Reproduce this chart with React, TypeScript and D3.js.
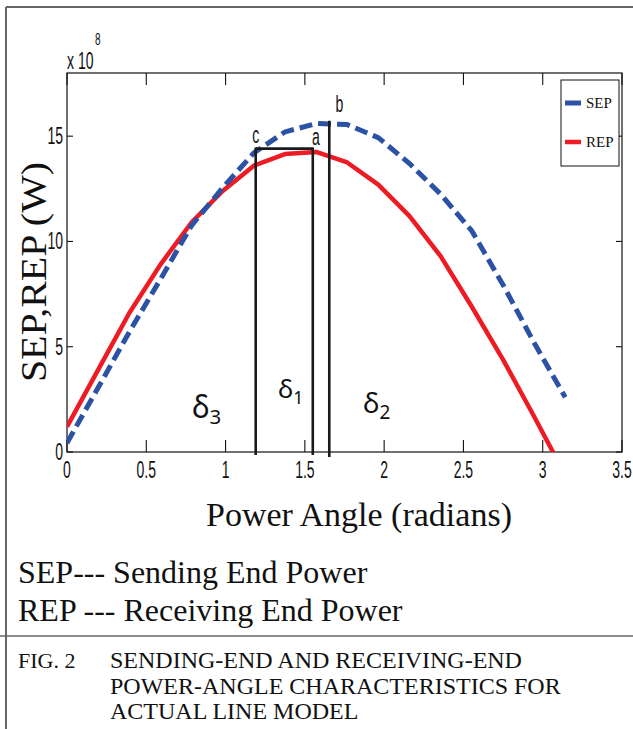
import React from "react";
import * as d3 from "d3";

// ---- data ----
const angles = [0, 0.196, 0.393, 0.589, 0.785, 0.982, 1.178, 1.374, 1.571, 1.767, 1.963, 2.16, 2.356, 2.553, 2.749, 2.945, 3.142];
const sepValues = [0.43, 3.05, 5.7, 8.2, 10.75, 12.55, 14.2, 15.2, 15.6, 15.55, 14.93, 13.7, 12.25, 10.5, 7.95, 5.2, 2.6];
const repValues = [1.2, 3.9, 6.6, 8.9, 10.9, 12.4, 13.6, 14.15, 14.25, 13.75, 12.7, 11.2, 9.3, 6.9, 4.4, 1.7, -1.1];
const xTicks = [0, 0.5, 1, 1.5, 2, 2.5, 3, 3.5];
const xTickLabels = ["0", "0.5", "1", "1.5", "2", "2.5", "3", "3.5"];
const yTicks = [0, 5, 10, 15];
const yTickLabels = ["0", "5", "10", "15"];
const markerNames = ["c", "a", "b"];
const markerAngles = [1.19, 1.55, 1.654];
const markerTops = [14.41, 14.41, 15.69];
const seriesNames = ["SEP", "REP"];
const deltaNames = ["3", "1", "2"];
const deltaAngles = [0.788, 1.331, 1.867];
const deltaLevels = [1.6, 2.55, 1.85];
const noteLines = ["SEP--- Sending End Power", "REP --- Receiving End Power"];
const captionLines = ["SENDING-END AND RECEIVING-END", "POWER-ANGLE CHARACTERISTICS FOR", "ACTUAL LINE MODEL"];

const W = 633, H = 729;
const left = 67, right = 622, top = 73, bottom = 452;
const BLUE = "#2C52A6", RED = "#ED1C24";
const SY = 1.65;
const SANS = "'Liberation Sans', Arial, sans-serif";
const SERIF = "'Liberation Serif', 'Times New Roman', serif";

function Stretch({ x, y, anchor = "start", size = 14, children }: any) {
  return (
    <g transform={`translate(${x},${y}) scale(1,${SY})`}>
      <text x={0} y={0} textAnchor={anchor} fontFamily={SANS} fontSize={size} fill="#111">{children}</text>
    </g>
  );
}

export default function App() {
  const x = d3.scaleLinear().domain([0, 3.5]).range([left, right]);
  const y = d3.scaleLinear().domain([0, 18]).range([bottom, top]);
  const line = d3.line<number>().x((_, i) => x(angles[i])).y((d) => y(d));
  const sepPath = line(sepValues) || "";
  const repPath = line(repValues) || "";
  const deltaSizes = [30, 26, 28];

  return (
    <svg width={W} height={H} style={{ position: "absolute", left: 0, top: 0, background: "#fff" }}>
      <defs>
        <clipPath id="plotclip">
          <rect x={left} y={top} width={right - left} height={bottom - top} />
        </clipPath>
      </defs>
      <rect x={0} y={0} width={W} height={H} fill="#fff" />
      {/* frame */}
      <line x1={6} y1={7} x2={W} y2={7} stroke="#666" strokeWidth={2} />
      <line x1={6} y1={7} x2={6} y2={H} stroke="#666" strokeWidth={2} />
      <line x1={0} y1={636} x2={W} y2={636} stroke="#666" strokeWidth={1.5} />

      {/* axes box */}
      <rect x={left} y={top} width={right - left} height={bottom - top} fill="none" stroke="#111" strokeWidth={1.2} />
      {xTicks.map((t, i) => (
        <g key={"xt" + i}>
          <line x1={x(t)} x2={x(t)} y1={bottom} y2={bottom - 12} stroke="#111" strokeWidth={1.1} />
          <line x1={x(t)} x2={x(t)} y1={top} y2={top + 12} stroke="#111" strokeWidth={1.1} />
          <Stretch x={x(t)} y={478} anchor="middle">{xTickLabels[i]}</Stretch>
        </g>
      ))}
      {yTicks.map((t, i) => (
        <g key={"yt" + i}>
          <line x1={left} x2={left + 6} y1={y(t)} y2={y(t)} stroke="#111" strokeWidth={1.1} />
          <line x1={right} x2={right - 6} y1={y(t)} y2={y(t)} stroke="#111" strokeWidth={1.1} />
          <Stretch x={63} y={y(t) + 8} anchor="end">{yTickLabels[i]}</Stretch>
        </g>
      ))}
      <Stretch x={67} y={69}>x 10</Stretch>
      <Stretch x={95} y={45} size={10}>8</Stretch>

      {/* curves */}
      <g clipPath="url(#plotclip)">
        <path d={repPath} fill="none" stroke={RED} strokeWidth={4.5} strokeLinejoin="round" />
        <path d={sepPath} fill="none" stroke={BLUE} strokeWidth={5} strokeDasharray="13,6" />
      </g>

      {/* marker lines a, b, c */}
      <line x1={x(markerAngles[0])} x2={x(markerAngles[1])} y1={y(markerTops[0])} y2={y(markerTops[1])} stroke="#1a1a1a" strokeWidth={2.6} />
      {markerAngles.map((a, i) => (
        <line key={"m" + i} x1={x(a)} x2={x(a)} y1={y(markerTops[i]) - 1} y2={bottom + (i === 2 ? 5 : 3)} stroke="#1a1a1a" strokeWidth={2.6} />
      ))}
      <Stretch x={x(markerAngles[0])} y={y(markerTops[0]) - 6} anchor="middle">{markerNames[0]}</Stretch>
      <Stretch x={x(markerAngles[1]) + 3} y={y(markerTops[1]) - 4} anchor="middle">{markerNames[1]}</Stretch>
      <Stretch x={x(markerAngles[2]) + 10} y={y(markerTops[2]) - 10} anchor="middle">{markerNames[2]}</Stretch>

      {/* delta labels */}
      {deltaNames.map((d, i) => (
        <text key={"d" + i} x={x(deltaAngles[i])} y={y(deltaLevels[i])} fontFamily="'Noto Sans', 'DejaVu Sans', sans-serif" fontSize={deltaSizes[i]} fill="#111" textAnchor="start">
          δ<tspan fontSize={deltaSizes[i] * 0.68} dy={deltaSizes[i] * 0.2}>{d}</tspan>
        </text>
      ))}

      {/* legend */}
      <rect x={561} y={80} width={58} height={86} fill="#fff" stroke="#111" strokeWidth={1} />
      <line x1={565} x2={581} y1={103} y2={103} stroke={BLUE} strokeWidth={5} />
      <line x1={565} x2={581} y1={142} y2={142} stroke={RED} strokeWidth={4.5} />
      <text x={586} y={108} fontFamily={SERIF} fontSize={15} fill="#111">{seriesNames[0]}</text>
      <text x={586} y={147} fontFamily={SERIF} fontSize={15} fill="#111">{seriesNames[1]}</text>

      {/* axis titles */}
      <text transform={`translate(46,272) rotate(-90) scale(1.14,1)`} textAnchor="middle" fontFamily={SERIF} fontSize={35} fill="#111">SEP,REP (W)</text>
      <text x={359} y={526} textAnchor="middle" fontFamily={SERIF} fontSize={34} fill="#111">Power Angle (radians)</text>

      {/* notes */}
      <text x={18} y={583} fontFamily={SERIF} fontSize={32} fill="#111">{noteLines[0]}</text>
      <text x={18} y={621} fontFamily={SERIF} fontSize={32} fill="#111">{noteLines[1]}</text>

      {/* caption */}
      <text x={18} y={668} fontFamily={SERIF} fontSize={22} fill="#111">FIG. 2</text>
      {captionLines.map((c, i) => (
        <text key={"c" + i} x={110} y={668 + i * 25.5} fontFamily={SERIF} fontSize={24} fill="#111">{c}</text>
      ))}
    </svg>
  );
}
